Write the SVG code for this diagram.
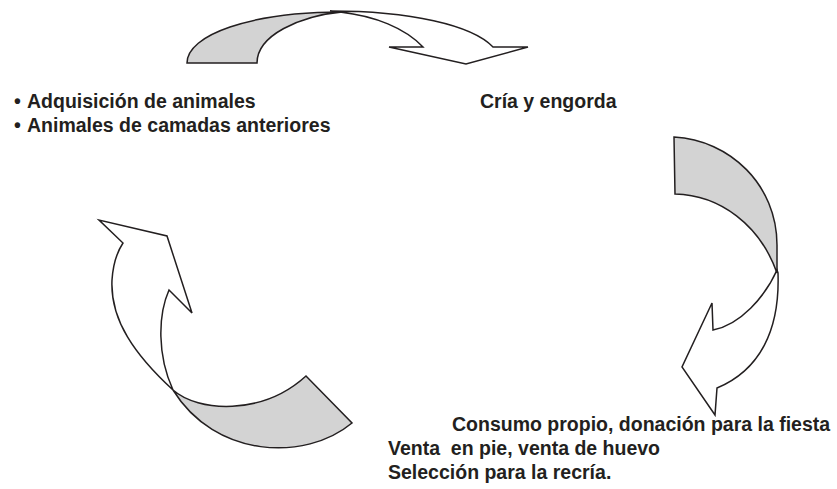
<svg xmlns="http://www.w3.org/2000/svg" width="837" height="489" viewBox="0 0 837 489">
<style>
.bg{fill:#ffffff}
.g{fill:#d3d3d3;stroke:#231f20;stroke-width:1.5;stroke-linejoin:miter}
.w{fill:#ffffff;stroke:#231f20;stroke-width:1.5;stroke-linejoin:miter}
text{font-family:"Liberation Sans",Arial,sans-serif;font-weight:bold;font-size:19.5px;fill:#231f20;white-space:pre}
</style>
<rect class="bg" x="0" y="0" width="837" height="489"/>
<g id="connectors">
<g id="arrow-top">
<path class="g" d="M187,63 C187,35 250,12 342,12 C300,16 257,35 257,63 Z"/>
<path class="w" d="M330,11 C410,11 472,25 493,47 L528,47 L466,64 L389,47 L423,47 C405,28 375,16 340,12 Z"/>
</g>
<g id="arrow-right">
<path class="w" d="M777,270 C765,297 740,325 713,330 L712,303 L682,367 L715,415 L717,388 C760,370 780,330 778,273 Z"/>
<path class="g" d="M674,137 C730,140 777,185 777,245 L777,273 C760,225 720,195 675,194 Z"/>
</g>
<g id="arrow-left">
<path class="w" d="M173,390 C135,355 110,320 112,280 C113,265 117,252 123,243 L99,220 L167,236 L192,313 L169,290 C158,315 157,355 173,390 Z"/>
<path class="g" d="M173,390 C198,412 262,416 306,376 L352,423 C305,462 215,458 173,390 Z"/>
</g>
</g>
<g id="node-inputs">
<text x="14" y="108">•</text>
<text x="27" y="108">Adquisición de animales</text>
<text x="14" y="132">•</text>
<text x="27" y="132">Animales de camadas anteriores</text>
</g>
<g id="node-cria">
<text x="480" y="108">Cría y engorda</text>
</g>
<g id="node-outputs">
<text x="452" y="431">Consumo propio, donación para la fiesta</text>
<text x="388" y="455">Venta  en pie, venta de huevo</text>
<text x="388" y="479">Selección para la recría.</text>
</g>
</svg>
